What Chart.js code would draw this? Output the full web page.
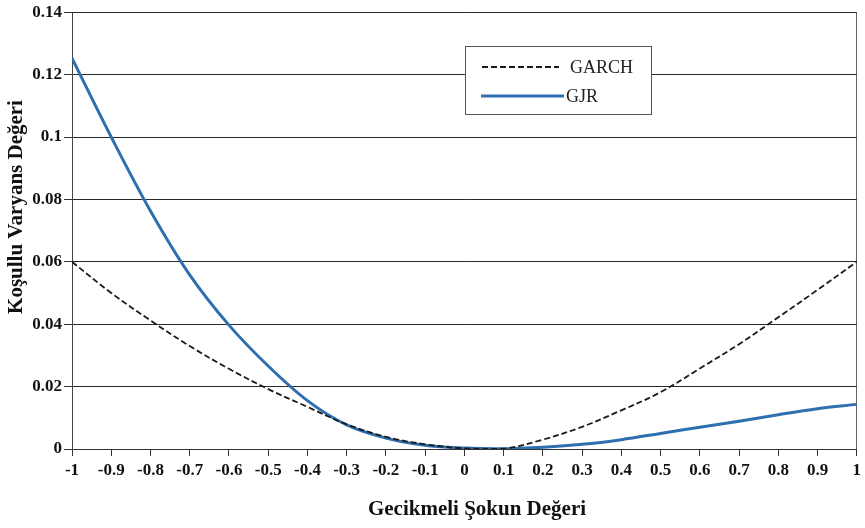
<!DOCTYPE html>
<html>
<head>
<meta charset="utf-8">
<script src="https://cdn.jsdelivr.net/npm/chart.js@4.4.1/dist/chart.umd.min.js"></script>
<style>
  html, body { margin: 0; padding: 0; background: #fff; }
  #wrap { width: 865px; height: 528px; }
</style>
</head>
<body>
<div id="wrap"><canvas id="newsChart" width="865" height="528"></canvas></div>
<script>
// Gecikmeli şok değerleri (x ekseni)
const shockValues = [-1, -0.9, -0.8, -0.7, -0.6, -0.5, -0.4, -0.3, -0.2, -0.1, 0,
                     0.1, 0.2, 0.3, 0.4, 0.5, 0.6, 0.7, 0.8, 0.9, 1];

// Koşullu varyans değerleri
const garchValues = [0.060, 0.050, 0.0412, 0.0330, 0.0257, 0.0192, 0.0135, 0.0079, 0.0039, 0.0015, 0.0002,
                     0.0001, 0.003, 0.0071, 0.0124, 0.0182, 0.0258, 0.0336, 0.0422, 0.051, 0.060];
const gjrValues = [0.1253, 0.100, 0.0763, 0.0558, 0.0397, 0.0266, 0.0155, 0.0077, 0.0035, 0.0012, 0.0003,
                   0.0001, 0.0006, 0.0015, 0.003, 0.005, 0.007, 0.0089, 0.011, 0.0129, 0.0143];

const xTickLabels = ['-1', '-0.9', '-0.8', '-0.7', '-0.6', '-0.5', '-0.4', '-0.3', '-0.2', '-0.1', '0',
                     '0.1', '0.2', '0.3', '0.4', '0.5', '0.6', '0.7', '0.8', '0.9', '1'];
const yTickLabels = ['0', '0.02', '0.04', '0.06', '0.08', '0.1', '0.12', '0.14'];

const xTitle = 'Gecikmeli Şokun Değeri';
const yTitle = 'Koşullu Varyans Değeri';

const serif = "'Liberation Serif', 'Times New Roman', serif";

function toPoints(values) {
    return values.map((v, i) => ({ x: shockValues[i], y: v }));
}

// axis titles and the boxed legend, drawn on top of the chart
const extrasPlugin = {
    id: 'extras',
    afterDraw(chart) {
        const ctx = chart.ctx;
        ctx.save();

        ctx.fillStyle = '#111';
        ctx.font = 'bold 21px ' + serif;
        ctx.textAlign = 'center';
        ctx.textBaseline = 'middle';
        ctx.fillText(xTitle, 477, 510);

        ctx.translate(17, 207);
        ctx.rotate(-Math.PI / 2);
        ctx.fillText(yTitle, 0, 0);
        ctx.restore();

        // legend box
        ctx.save();
        ctx.fillStyle = '#fff';
        ctx.fillRect(465, 46, 186, 68);
        ctx.strokeStyle = '#555';
        ctx.lineWidth = 1;
        ctx.strokeRect(465.5, 46.5, 186, 68);

        const rows = [
            { y: 67, x1: 482, x2: 559, tx: 570 },
            { y: 96, x1: 481, x2: 564, tx: 566 }
        ];
        chart.data.datasets.forEach((ds, i) => {
            const r = rows[i];
            ctx.beginPath();
            ctx.setLineDash(ds.borderDash || []);
            ctx.strokeStyle = ds.borderColor;
            ctx.lineWidth = ds.borderWidth;
            ctx.moveTo(r.x1, r.y);
            ctx.lineTo(r.x2, r.y);
            ctx.stroke();
            ctx.setLineDash([]);
            ctx.fillStyle = '#222';
            ctx.font = '18px ' + serif;
            ctx.textAlign = 'left';
            ctx.textBaseline = 'middle';
            ctx.fillText(ds.label, r.tx, r.y + 1);
        });
        ctx.restore();
    }
};

document.addEventListener('DOMContentLoaded', function() {
    const ctx = document.getElementById('newsChart').getContext('2d');

    new Chart(ctx, {
        type: 'line',
        data: {
            datasets: [
                {
                    label: 'GARCH',
                    data: toPoints(garchValues),
                    borderColor: '#1a1a1a',
                    borderWidth: 1.8,
                    borderDash: [6, 3],
                    pointRadius: 0,
                    fill: false,
                    tension: 0.35
                },
                {
                    label: 'GJR',
                    data: toPoints(gjrValues),
                    borderColor: '#2e6fb0',
                    borderWidth: 3,
                    pointRadius: 0,
                    fill: false,
                    tension: 0.35
                }
            ]
        },
        options: {
            responsive: false,
            animation: false,
            devicePixelRatio: 1,
            layout: { padding: { top: 7, right: 5, left: 0, bottom: 0 } },
            plugins: {
                legend: { display: false },
                tooltip: { enabled: false }
            },
            scales: {
                x: {
                    type: 'linear',
                    min: -1,
                    max: 1,
                    afterFit: function(scale) { scale.height = 79; },
                    border: { color: '#333', width: 1 },
                    grid: {
                        color: c => (c.tick && c.tick.value === 1) ? '#666' : 'rgba(0,0,0,0)',
                        tickColor: '#333',
                        tickLength: 7,
                        drawTicks: true
                    },
                    ticks: {
                        stepSize: 0.1,
                        autoSkip: false,
                        maxRotation: 0,
                        padding: 4,
                        color: '#111',
                        font: { family: serif, size: 17, weight: 'bold' },
                        callback: (v, i) => xTickLabels[i]
                    }
                },
                y: {
                    min: 0,
                    max: 0.14,
                    afterFit: function(scale) { scale.width = 72; },
                    border: { color: '#444', width: 1 },
                    grid: {
                        color: '#2a2a2a',
                        tickColor: '#333',
                        tickLength: 8,
                        lineWidth: 1
                    },
                    ticks: {
                        stepSize: 0.02,
                        padding: 2,
                        color: '#111',
                        font: { family: serif, size: 17, weight: 'bold' },
                        callback: (v, i) => yTickLabels[i]
                    }
                }
            }
        },
        plugins: [extrasPlugin]
    });
});
</script>
</body>
</html>
